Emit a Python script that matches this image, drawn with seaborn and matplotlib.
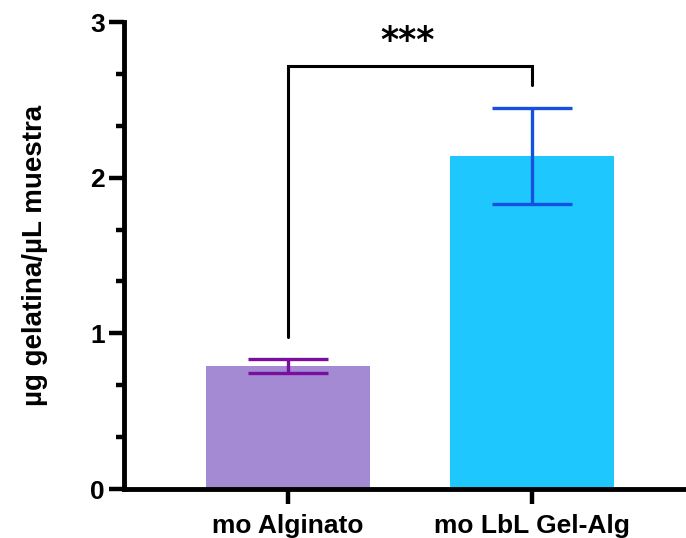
import numpy as np
import matplotlib.pyplot as plt
import seaborn as sns
import pandas as pd
from matplotlib.ticker import MultipleLocator

# Data
groups = ['mo Alginato', 'mo LbL Gel-Alg']
means = [0.79, 2.14]
errors = [0.045, 0.31]
bar_colors = ['#A48AD3', '#1EC8FF']
err_colors = ['#7A0E9E', '#1550E0']
signif = '***'

sns.set_theme(style='ticks')
plt.rcParams['font.family'] = ['Liberation Sans', 'DejaVu Sans']
plt.rcParams['font.weight'] = 'bold'
plt.rcParams['text.color'] = 'black'
plt.rcParams['axes.labelcolor'] = 'black'
plt.rcParams['xtick.labelcolor'] = 'black'
plt.rcParams['ytick.labelcolor'] = 'black'

df = pd.DataFrame({'grupo': groups, 'valor': means})

fig = plt.figure(figsize=(6.86, 5.38), dpi=100)
ax = fig.add_axes([0.181, 0.091, 0.819, 0.868])

sns.barplot(data=df, x='grupo', y='valor', hue='grupo', palette=bar_colors,
            saturation=1, width=0.672, errorbar=None, legend=False, ax=ax)
for p in ax.patches:
    p.set_edgecolor('none')

for i in range(len(groups)):
    ax.errorbar(i, means[i], yerr=errors[i], fmt='none', ecolor=err_colors[i],
                elinewidth=2.4, capsize=29, capthick=2.4, zorder=5)

# significance bracket
y_top = 2.72
ax.plot([0, 0, 1, 1], [0.975, y_top, y_top, 2.595], color='black', lw=2.2,
        solid_joinstyle='miter', clip_on=False)
ax.text(0.49, 2.77, signif, ha='center', va='bottom', fontsize=25,
        fontweight='bold', family='DejaVu Sans')

ax.set_xlim(-0.672, 1.631)
ax.set_ylim(0, 3)
ax.yaxis.set_major_locator(MultipleLocator(1))
ax.yaxis.set_minor_locator(MultipleLocator(1 / 3))

sns.despine(ax=ax)
for s in ['left', 'bottom']:
    ax.spines[s].set_linewidth(3.5)
    ax.spines[s].set_color('black')

ax.tick_params(axis='both', which='major', length=11, width=3.2, colors='black',
               labelsize=19, pad=3)
ax.tick_params(axis='x', which='major', pad=7)
ax.tick_params(axis='y', which='minor', length=6, width=3.2, colors='black')
for lab in ax.get_xticklabels() + ax.get_yticklabels():
    lab.set_fontweight('bold')

ax.set_xlabel('')
ax.set_ylabel('µg gelatina/µL muestra', fontsize=20, fontweight='bold', labelpad=30)

fig.savefig('out.png', dpi=100)
